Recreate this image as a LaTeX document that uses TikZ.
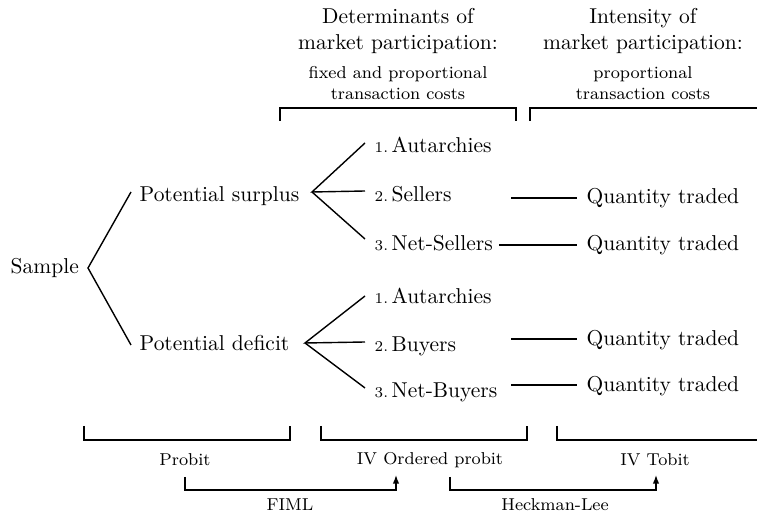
\documentclass[tikz,border=0pt]{standalone}
\usetikzlibrary{calc,arrows.meta}
\begin{document}
\begin{tikzpicture}[x=0.465pt,y=-0.465pt,line width=0.65pt,
  txt/.style={inner sep=0pt,text height=6.9pt,text depth=1.9pt},
  head/.style={inner sep=0pt,align=center},
  sub/.style={inner sep=0pt,align=center,font=\footnotesize},
  lab/.style={inner sep=0pt,font=\footnotesize},
  arr/.style={-{Latex[length=4pt,width=3pt]}}]
\useasboundingbox (0,0) rectangle (757,513);
% headers
\node[head] (h1) at (398,31) {Determinants of\\market participation:};
\node[sub] (s1) at (398,83) {fixed and proportional\\transaction costs};
\node[head] (h2) at (643,31) {Intensity of\\market participation:};
\node[sub] (s2) at (643,83) {proportional\\transaction costs};
% top brackets
\draw (280,121) -- (280,108) -- (516,108) -- (516,121);
\draw (530,121) -- (530,108) -- (757,108);
% tree
\node[txt,anchor=west] (sample) at (10,268) {Sample};
\node[txt,anchor=west] (ps) at (139,196) {Potential surplus};
\node[txt,anchor=west] (pd) at (139,345) {Potential deficit};
\coordinate (sa) at (88,268);
\draw ($(ps.west)+(-8,-4)$) -- (sa) -- ($(pd.west)+(-8,0)$);
\node[txt,anchor=west] (a1) at (374,147) {{\scriptsize 1.}\,Autarchies};
\node[txt,anchor=west] (a2) at (374,196) {{\scriptsize 2.}\,Sellers};
\node[txt,anchor=west] (a3) at (374,245) {{\scriptsize 3.}\,Net-Sellers};
\node[txt,anchor=west] (b1) at (374,298) {{\scriptsize 1.}\,Autarchies};
\node[txt,anchor=west] (b2) at (374,346) {{\scriptsize 2.}\,Buyers};
\node[txt,anchor=west] (b3) at (374,392) {{\scriptsize 3.}\,Net-Buyers};
\coordinate (fa) at (312,192);
\coordinate (fb) at (305,343);
\draw ($(a1.west)+(-9,-4)$) -- (fa) -- ($(a2.west)+(-9,-5)$);
\draw (fa) -- ($(a3.west)+(-9,-6)$);
\draw ($(b1.west)+(-9,-2)$) -- (fb) -- ($(b2.west)+(-9,-4)$);
\draw (fb) -- ($(b3.west)+(-9,-4)$);
% quantity traded
\node[txt,anchor=west] (q1) at (586,198) {Quantity traded};
\node[txt,anchor=west] (q2) at (586,245) {Quantity traded};
\node[txt,anchor=west] (q3) at (586,340) {Quantity traded};
\node[txt,anchor=west] (q4) at (586,386) {Quantity traded};
\draw (511,198) -- (q1.west-|577,0);
\draw (499,245) -- (q2.west-|577,0);
\draw (511,339) -- (577,339);
\draw (511,385) -- (577,385);
% bottom brackets
\draw (84,426) -- (84,440) -- (290,440) -- (290,426);
\draw (321,426) -- (321,440) -- (527,440) -- (527,426);
\draw (557,426) -- (557,440) -- (757,440);
\node[lab] (probit) at (185,460) {Probit};
\node[lab] (ivop) at (430,460) {IV Ordered probit};
\node[lab] (ivt) at (655,460) {IV Tobit};
\coordinate (f1) at (185,477);
\coordinate (f2) at (396,475);
\coordinate (k1) at (450,477);
\coordinate (k2) at (656,475);
\draw[arr] (f1) -- (185,490) -- (396,490) -- (f2);
\draw[arr] (k1) -- (450,490) -- (656,490) -- (k2);
\node[lab] (fiml) at (290,505) {FIML};
\node[lab] (hl) at (555,505) {Heckman-Lee};
\end{tikzpicture}
\end{document}
